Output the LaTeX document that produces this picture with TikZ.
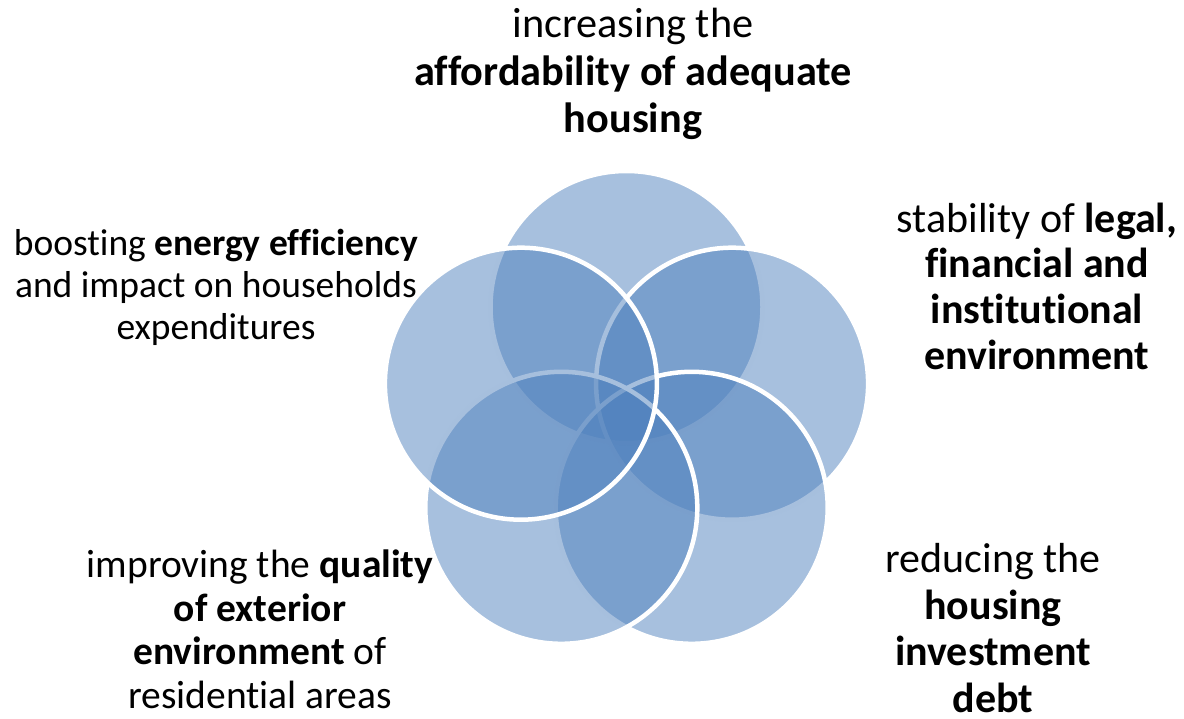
\documentclass[tikz,border=0pt]{standalone}
\usepackage{fontspec}
\setmainfont{Carlito}[Ligatures={NoCommon}]
\definecolor{vennblue}{HTML}{4F81BD}
\begin{document}
\begin{tikzpicture}[x=1pt,y=-1pt,
  venn/.style={circle, minimum size=272pt, inner sep=0pt, fill=vennblue, fill opacity=0.5, draw=white, line width=4.5pt},
  lbl/.style={align=center, anchor=base, inner sep=0pt, text=black}]
\useasboundingbox (0,0) rectangle (1184,719);
\node[venn] (ctop) at (626.5,307) {};
\node[venn] (cright) at (732.1,383.7) {};
\node[venn] (cbr) at (691.7,507.8) {};
\node[venn] (cbl) at (561.3,507.8) {};
\node[venn] (cleft) at (520.9,383.7) {};
\node[lbl, font=\fontsize{42.3}{47.5}\selectfont] (ttop) at (633,133) {increasing the\\\textbf{affordability of adequate}\\\textbf{housing}};
\node[lbl, font=\fontsize{37.5}{42.3}\selectfont] (tleft) at (216,340) {boosting \textbf{energy efficiency}\\and impact on households\\expenditures};
\node[lbl, font=\fontsize{42}{46}\selectfont] (tright) at (1037,370) {stability of \textbf{legal,}\\\textbf{financial and}\\\textbf{institutional}\\\textbf{environment}};
\node[lbl, font=\fontsize{39.5}{43.5}\selectfont] (tbl) at (260,708) {improving the \textbf{quality}\\\textbf{of exterior}\\\textbf{environment} of\\residential areas};
\node[lbl, font=\fontsize{42}{46.5}\selectfont] (tbr) at (993,712) {reducing the\\\textbf{housing}\\\textbf{investment}\\\textbf{debt}};
\end{tikzpicture}
\end{document}
